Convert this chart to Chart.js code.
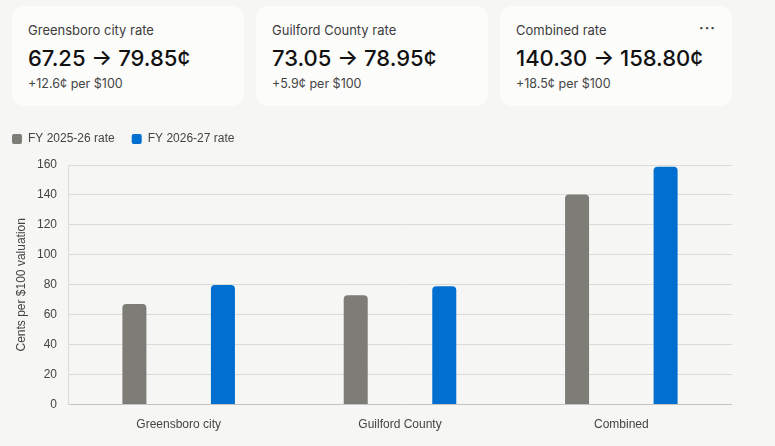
<!DOCTYPE html>
<html>
<head>
<meta charset="utf-8">
<script src="https://cdn.jsdelivr.net/npm/chart.js@4"></script>
<style>
  body { margin: 0; background: #f6f6f4; width: 775px; height: 446px; overflow: hidden; font-family: "Inter", sans-serif; }
  .card { position: absolute; top: 6px; width: 232px; height: 100px; background: #fcfcfb; border-radius: 12px; box-sizing: border-box; padding: 15px 16px; }
  .card .t { font-size: 13px; color: #3d3d3d; line-height: 18px; }
  .card .v { font-size: 22px; font-weight: 500; color: #111; line-height: 30px; margin-top: 4px; }
  .card .s { font-size: 12.5px; color: #444; line-height: 18px; margin-top: 2px; }
  .dots { position: absolute; right: 16px; top: 13px; font-size: 14px; color: #444; letter-spacing: 1px; font-weight: 700; }
  #wrap { position: absolute; left: -5px; top: 116px; width: 737px; height: 329px; }
</style>
</head>
<body>
<div class="card" style="left:12px"><div class="t">Greensboro city rate</div><div class="v">67.25 → 79.85¢</div><div class="s">+12.6¢ per $100</div></div>
<div class="card" style="left:256px"><div class="t">Guilford County rate</div><div class="v">73.05 → 78.95¢</div><div class="s">+5.9¢ per $100</div></div>
<div class="card" style="left:500px"><div class="t">Combined rate</div><div class="v">140.30 → 158.80¢</div><div class="s">+18.5¢ per $100</div><div class="dots">···</div></div>
<div id="wrap"><canvas id="chart"></canvas></div>
<script>
const categories = ["Greensboro city", "Guilford County", "Combined"];
const rate2025 = [67.25, 73.05, 140.30];
const rate2026 = [79.85, 78.95, 158.80];
const seriesNames = ["FY 2025-26 rate", "FY 2026-27 rate"];

const fontFam = '"Liberation Sans", Arial, sans-serif';

// extra space under the legend
const legendGap = {
  id: "legendGap",
  beforeInit(chart) {
    const fit = chart.legend.fit;
    chart.legend.fit = function () {
      fit.bind(chart.legend)();
      this.height += 10;
    };
  }
};

new Chart(document.getElementById("chart"), {
  type: "bar",
  data: {
    labels: categories,
    datasets: [
      { label: seriesNames[0], data: rate2025, backgroundColor: "#7d7c77", borderRadius: { topLeft: 4, topRight: 4 }, borderSkipped: "bottom", maxBarThickness: 24 },
      { label: seriesNames[1], data: rate2026, backgroundColor: "#006fd0", borderRadius: { topLeft: 4, topRight: 4 }, borderSkipped: "bottom", maxBarThickness: 24 }
    ]
  },
  options: {
    responsive: true,
    maintainAspectRatio: false,
    animation: false,
    layout: { padding: 0 },
    plugins: {
      legend: {
        position: "top",
        align: "start",
        labels: { boxWidth: 10, boxHeight: 10, useBorderRadius: true, borderRadius: 2, color: "#444", font: { family: fontFam, size: 12 }, padding: 17 }
      },
      tooltip: { enabled: false }
    },
    scales: {
      x: {
        grid: { display: false, drawTicks: false },
        border: { color: "#c4c4c0" },
        ticks: { color: "#444", font: { family: fontFam, size: 12 }, padding: 13 }
      },
      y: {
        min: 0, max: 160,
        afterFit(scale) { scale.width = 73; },
        ticks: { stepSize: 20, color: "#444", font: { family: fontFam, size: 12 }, padding: 11 },
        grid: { color: "#dcdcd6", drawTicks: false },
        border: { color: "#dcdcd6" },
        title: { display: true, text: "Cents per $100 valuation", color: "#444", font: { family: fontFam, size: 12 }, padding: { top: 19, bottom: 0 } }
      }
    }
  },
  plugins: [legendGap]
});
</script>
</body>
</html>
